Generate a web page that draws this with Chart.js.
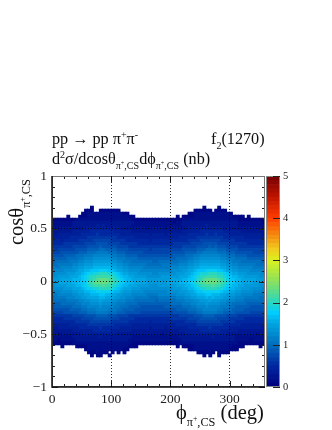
<!DOCTYPE html>
<html>
<head>
<meta charset="utf-8">
<script src="https://cdn.jsdelivr.net/npm/chart.js@4"></script>
<style>
  html, body { margin: 0; padding: 0; background: #fff; }
  #page { position: relative; width: 332px; height: 430px; overflow: hidden; }
  canvas { position: absolute; }
  .t { position: absolute; font-family: "Liberation Serif", serif; color: #111; white-space: nowrap; line-height: 20px; font-size: 16.2px; }
  .t sup, .t sub { font-size: 62%; line-height: 0; vertical-align: baseline; position: relative; }
  .t sup { top: -0.6em; }
  .t sub { top: 0.45em; }
  .big { font-size: 20.5px; line-height: 26px; }
  .big sub { font-size: 60%; top: 0.55em; }
</style>
</head>
<body>
<div id="page">
  <canvas id="map" width="332" height="430" style="left:0;top:0"></canvas>
  <canvas id="bar" width="60" height="240" style="left:260px;top:160px"></canvas>
  <div class="t" style="left:52px;top:129px">pp → pp π<sup>+</sup>π<sup>-</sup></div>
  <div class="t" style="left:211px;top:129px">f<sub>2</sub>(1270)</div>
  <div class="t" style="left:52px;top:149px">d<sup>2</sup>σ/dcosθ<sub>π<sup>+</sup>,CS</sub>dϕ<sub>π<sup>+</sup>,CS</sub> (nb)</div>
  <div class="t big" style="left:176px;top:399px">ϕ<sub>π<sup>+</sup>,CS</sub> (deg)</div>
  <div class="t big" style="left:3px;top:245px;transform-origin:0 0;transform:rotate(-90deg)">cosθ<sub>π<sup>+</sup>,CS</sub></div>
</div>
<script>
const xTicks = [0, 100, 200, 300];
const xMinorTicks = [20, 40, 60, 80, 120, 140, 160, 180, 220, 240, 260, 280, 320, 340];
const yTicks = [-1, -0.5, 0, 0.5, 1];
const yMinorTicks = [-0.9, -0.8, -0.7, -0.6, -0.4, -0.3, -0.2, -0.1, 0.1, 0.2, 0.3, 0.4, 0.6, 0.7, 0.8, 0.9];
const barTicks = [0, 1, 2, 3, 4, 5];

const phiBinWidth = 5;
const cosBinHeight = 0.6 / 21;
const cosTop = 0.6 + 4 * cosBinHeight;

// cell values in tenths of a nb. top row first, 72 phi bins, 0 = empty
const cellTenths = [
[0,0,0,0,0,0,0,0,0,0,0,0,0,1,0,0,0,0,0,0,0,0,0,0,0,0,0,0,0,0,0,0,0,0,0,0,0,0,0,0,0,0,0,0,0,0,0,0,0,0,0,1,0,0,0,0,1,0,0,0,0,0,0,0,0,0,0,0,0,0,0,0],
[0,0,0,0,0,0,0,0,0,0,0,1,1,1,0,0,1,1,1,1,1,1,1,0,0,0,0,0,0,0,0,0,0,0,0,0,0,0,0,0,0,0,0,0,0,0,0,0,1,1,1,1,1,1,0,1,1,1,1,0,0,0,0,0,0,0,0,0,0,0,0,0],
[0,0,0,0,0,0,0,0,0,0,1,1,2,2,2,2,2,2,2,2,2,2,2,2,1,1,0,0,0,0,0,0,0,0,0,0,0,0,0,0,0,0,0,0,0,0,1,1,2,2,2,2,2,2,2,2,2,2,2,2,1,0,0,0,0,0,0,0,0,0,0,0],
[0,0,0,0,0,1,0,0,0,1,1,1,2,2,2,2,2,2,2,2,2,2,2,2,2,2,1,1,0,0,0,0,0,0,0,0,0,0,0,0,0,0,1,0,1,1,1,1,2,2,2,2,2,2,2,2,2,2,2,2,2,1,1,1,1,0,1,0,0,0,0,0],
[1,1,1,1,1,1,1,1,2,2,2,2,2,2,2,2,2,2,2,2,2,2,2,2,2,2,2,1,1,1,1,1,1,1,1,1,1,1,1,1,1,1,1,1,2,2,2,2,2,2,2,2,2,2,2,2,2,2,2,2,2,2,2,1,1,1,1,1,1,1,1,1],
[2,2,2,2,2,2,2,3,3,3,3,3,3,3,3,3,3,3,3,3,3,3,3,3,3,3,3,3,2,2,2,2,2,2,2,2,2,2,2,2,2,1,2,2,3,3,3,3,3,3,3,3,3,3,3,3,3,3,3,3,3,3,3,2,2,2,2,2,2,2,2,1],
[2,2,2,2,2,2,2,3,3,3,3,3,3,3,3,4,3,4,3,3,3,3,3,3,3,3,3,2,2,2,2,2,2,2,2,2,2,2,2,2,2,2,2,2,3,3,3,3,3,3,3,3,4,3,3,3,3,3,3,3,3,3,3,2,2,2,2,2,2,2,2,2],
[3,2,3,3,3,3,3,3,3,3,3,4,4,4,4,4,4,4,4,4,4,4,4,3,3,3,3,3,3,3,3,3,2,3,3,3,3,3,2,3,3,3,3,3,3,3,4,4,4,4,4,4,4,4,4,4,4,4,3,4,3,3,3,3,3,3,3,3,3,3,3,2],
[3,3,3,3,3,3,3,4,4,4,4,4,4,5,5,5,5,5,5,5,5,4,4,4,4,4,4,3,3,3,3,3,3,3,3,3,3,3,3,3,3,3,3,3,4,4,4,4,4,4,5,5,5,5,5,5,5,5,4,4,4,4,4,4,3,3,3,3,3,3,3,3],
[4,3,4,4,4,4,4,4,4,4,5,5,5,5,5,6,5,5,5,5,5,5,5,4,4,4,4,4,4,4,4,4,4,3,4,4,4,4,3,4,4,4,4,4,4,4,5,5,5,5,5,5,6,5,5,6,5,5,5,5,4,4,4,4,4,4,4,4,4,4,4,3],
[4,4,4,4,4,4,5,5,5,5,5,5,6,6,6,6,6,6,6,6,6,6,5,5,5,5,5,5,4,4,4,4,4,4,4,4,4,4,4,4,4,4,4,5,5,5,5,5,5,6,6,6,6,6,6,6,6,6,5,5,5,5,5,5,5,4,4,4,4,4,4,4],
[5,5,5,4,5,5,5,5,5,6,6,6,6,6,7,7,7,7,7,7,6,6,6,6,6,5,5,5,5,5,5,5,5,4,5,5,5,5,5,5,5,5,5,5,5,5,6,6,6,6,7,7,7,7,7,7,7,6,6,6,6,6,5,5,5,5,5,5,5,5,5,5],
[5,5,5,5,6,6,6,6,6,6,6,7,7,7,7,8,8,8,8,7,7,7,7,6,6,6,6,6,6,5,5,5,5,5,5,5,5,5,5,5,5,6,6,6,6,6,6,7,7,7,7,8,8,8,8,8,7,7,7,7,6,6,6,6,6,6,5,5,5,5,5,5],
[6,6,6,6,6,6,6,7,7,7,7,7,8,8,8,8,9,8,8,8,8,8,7,7,7,7,6,6,6,6,6,6,6,6,6,6,6,6,6,6,6,6,6,6,7,7,7,7,7,8,8,8,8,9,8,9,8,8,8,7,7,7,7,6,6,6,6,6,6,6,6,6],
[7,6,7,7,7,7,7,7,8,8,8,8,9,9,9,9,10,10,9,9,9,9,8,8,8,8,7,7,7,7,7,7,7,6,7,7,7,7,7,7,7,7,7,7,8,8,8,8,8,9,9,9,10,10,10,10,9,9,9,8,8,8,8,7,7,7,7,7,7,7,7,7],
[7,7,7,8,8,8,8,8,8,9,9,9,10,10,10,11,11,11,11,10,10,10,9,9,9,8,8,8,8,8,8,7,7,7,7,7,7,7,7,7,8,8,8,8,8,9,9,9,9,10,10,11,11,11,11,11,10,10,10,9,9,9,8,8,8,8,8,8,7,7,7,7],
[8,8,8,8,9,9,9,9,10,10,10,11,11,11,12,12,12,12,12,12,11,11,10,10,10,9,9,9,9,8,8,8,8,8,8,8,8,8,8,8,8,9,9,9,9,10,10,10,11,11,12,12,12,12,12,12,12,11,11,10,10,10,9,9,9,9,8,8,8,8,8,8],
[9,9,9,9,9,10,10,10,10,11,11,12,12,12,13,13,13,13,13,13,12,12,11,11,11,10,10,10,10,9,9,9,9,9,9,9,9,9,9,9,9,9,10,10,10,10,11,11,12,12,13,13,13,13,13,13,13,12,12,11,11,11,10,10,10,10,9,9,9,9,9,9],
[9,10,10,10,10,10,11,11,11,12,12,13,13,13,14,14,14,14,14,14,13,13,12,12,11,11,11,10,10,10,10,10,10,10,9,9,10,10,10,10,10,10,10,11,11,11,12,12,13,13,14,14,14,14,14,14,14,13,13,12,12,11,11,11,10,10,10,10,10,10,10,9],
[10,10,11,11,11,11,11,12,12,13,13,14,14,14,15,15,15,15,15,15,14,14,13,13,12,12,11,11,11,11,11,11,10,10,10,10,10,11,11,11,11,11,11,12,12,12,13,13,14,14,15,15,15,15,15,15,15,14,14,13,13,12,12,11,11,11,11,11,11,10,10,10],
[11,11,11,12,12,12,12,13,13,14,14,15,15,15,16,16,16,16,16,16,15,15,14,14,13,13,12,12,12,12,12,11,11,11,11,11,11,11,11,11,12,12,12,13,13,13,14,14,15,15,16,16,16,16,16,16,16,15,15,14,14,13,13,12,12,12,12,12,11,11,11,11],
[12,12,12,12,13,13,13,13,14,15,15,16,16,17,17,17,18,18,18,17,17,16,15,15,14,14,13,13,13,13,12,12,12,12,12,12,12,12,12,12,12,13,13,13,14,14,15,15,16,17,17,17,18,18,18,18,17,17,16,15,15,14,14,13,13,13,13,12,12,12,12,12],
[12,13,13,13,13,14,14,14,15,15,16,17,18,18,19,19,20,20,20,19,19,18,17,16,15,15,14,14,14,13,13,13,13,13,12,12,13,13,13,13,13,13,14,14,14,15,15,16,17,18,19,19,19,20,20,20,19,19,18,17,16,15,15,14,14,14,13,13,13,13,13,12],
[13,13,14,14,14,14,15,15,15,16,17,18,19,20,20,21,21,21,21,21,20,19,18,17,16,16,15,15,14,14,14,14,13,13,13,13,13,14,14,14,14,14,14,15,15,15,16,17,18,19,20,20,21,21,21,21,20,20,19,18,17,16,16,15,15,14,14,14,14,14,13,13],
[14,14,14,15,15,15,15,16,16,16,17,18,19,20,21,22,23,23,23,22,21,20,19,18,17,16,16,15,15,15,15,15,14,14,14,14,14,14,14,14,15,15,15,15,16,16,17,17,18,20,20,22,23,23,23,23,22,21,20,18,17,17,16,16,15,15,15,15,15,14,14,14],
[14,14,15,15,15,15,15,16,16,17,17,18,20,21,22,23,23,23,23,22,21,20,19,18,17,16,16,16,15,15,15,15,14,14,14,14,14,14,14,15,15,15,15,16,16,16,17,18,19,20,22,22,23,23,23,23,22,21,20,19,18,17,16,16,15,15,15,15,14,14,14,14],
[13,14,14,14,14,15,15,15,16,16,17,18,19,20,21,21,21,22,21,21,20,19,18,17,16,16,15,15,15,14,14,14,14,13,13,13,14,14,14,14,14,14,15,15,15,16,16,17,18,19,20,21,21,21,22,21,21,20,19,18,17,16,16,15,15,14,14,14,14,14,13,13],
[13,13,13,13,14,14,14,15,15,15,16,17,18,18,19,19,20,20,20,20,19,18,17,16,15,15,15,14,14,14,13,13,13,13,13,13,13,13,13,13,13,14,14,14,15,15,16,16,17,18,19,19,20,20,20,20,19,19,18,17,16,16,15,15,14,14,14,13,13,13,13,12],
[12,12,12,13,13,13,13,14,14,15,15,16,16,17,17,18,18,18,18,18,17,16,16,15,14,14,14,13,13,13,13,12,12,12,12,12,12,12,12,13,13,13,13,14,14,14,15,15,16,17,17,18,18,18,18,18,18,17,16,16,15,15,14,14,13,13,13,13,12,12,12,12],
[11,11,12,12,12,12,12,13,13,14,14,15,15,16,16,16,17,17,16,16,15,15,14,14,13,13,13,12,12,12,12,12,11,11,11,11,12,12,12,12,12,12,13,13,13,14,14,15,15,16,16,16,17,17,16,16,16,15,15,14,14,14,13,13,12,12,12,12,11,11,11,11],
[10,11,11,11,11,12,12,12,13,13,14,14,15,15,15,15,16,16,15,15,15,14,14,13,13,12,12,12,11,11,11,11,11,10,10,10,11,11,11,11,11,11,12,12,12,13,13,14,14,15,15,15,16,15,16,15,15,15,14,14,13,13,12,12,12,11,11,11,11,11,10,10],
[10,10,10,10,10,11,11,11,11,12,12,13,13,14,14,14,15,14,14,14,13,13,12,12,12,11,11,11,10,10,10,10,10,10,10,9,10,10,10,10,10,10,11,11,11,12,12,12,13,13,14,14,14,15,14,14,14,13,13,12,12,12,11,11,11,10,10,10,10,10,10,10],
[9,9,9,10,10,10,10,10,11,11,12,12,12,13,13,13,14,13,13,13,12,12,11,11,11,10,10,10,10,9,9,9,9,9,9,9,9,9,9,9,10,10,10,10,11,11,11,12,12,13,13,13,14,13,13,13,13,12,12,11,11,10,10,10,10,10,9,9,9,9,9,9],
[8,9,9,9,9,9,9,10,10,10,11,11,12,12,12,12,13,12,12,12,12,11,11,10,10,10,9,9,9,9,8,8,8,8,8,8,8,8,9,9,9,9,9,9,10,10,10,11,11,12,12,12,13,12,12,12,12,11,11,11,10,10,9,9,9,9,9,8,8,8,8,8],
[8,8,8,8,8,8,9,9,9,9,10,10,11,11,11,12,12,12,12,11,11,11,10,10,9,9,9,9,8,8,8,8,8,8,8,8,8,8,8,8,8,8,9,9,9,9,10,10,10,11,11,12,12,12,12,12,11,11,10,10,10,9,9,9,9,8,8,8,8,8,8,8],
[7,7,7,7,8,8,8,8,8,9,9,9,10,10,10,11,11,11,11,10,10,10,9,9,9,8,8,8,8,8,7,7,7,7,7,7,7,7,7,7,7,8,8,8,8,8,9,9,9,10,10,11,11,11,11,11,10,10,9,9,9,9,8,8,8,8,8,7,7,7,7,7],
[6,6,6,6,6,6,6,7,7,7,7,8,8,8,8,9,9,9,9,8,8,8,7,7,7,7,6,6,6,6,6,6,6,6,6,6,6,6,6,6,6,6,6,7,7,7,7,7,8,8,8,9,9,9,9,8,8,8,8,7,7,7,7,6,6,6,6,6,6,6,6,6],
[5,5,5,5,6,6,6,6,6,6,7,7,7,7,8,8,8,8,8,8,7,7,7,6,6,6,6,6,5,5,5,5,5,5,5,5,5,5,5,5,6,6,6,6,6,6,7,7,7,7,8,8,8,8,8,8,7,7,7,7,6,6,6,6,6,5,5,5,5,5,5,5],
[5,5,5,5,5,5,5,5,6,6,6,6,6,7,7,7,7,7,7,7,6,6,6,6,6,6,5,5,5,5,5,5,5,4,5,5,5,5,5,5,5,5,5,5,5,6,6,6,6,7,7,7,7,7,7,7,7,6,6,6,6,6,5,5,5,5,5,5,5,5,5,5],
[4,4,4,4,4,4,5,5,5,5,5,5,6,6,6,6,6,6,6,6,6,5,5,5,5,5,5,4,4,4,4,4,4,4,4,4,4,4,4,4,4,4,5,5,5,5,5,5,5,6,6,6,6,6,6,6,6,6,5,5,5,5,5,5,4,4,4,4,4,4,4,4],
[4,3,4,4,4,4,4,4,4,5,5,5,5,5,5,5,6,5,5,5,5,5,5,4,4,4,4,4,4,4,4,4,4,3,4,4,4,4,3,4,4,4,4,4,4,4,5,5,5,5,5,5,5,6,5,5,5,5,5,5,4,4,4,4,4,4,4,4,4,4,4,3],
[3,3,3,3,3,3,3,4,4,4,4,4,4,4,5,5,5,5,5,5,4,4,4,4,4,4,4,3,3,3,3,3,3,3,3,3,3,3,3,3,3,3,3,4,4,4,4,4,4,4,5,5,5,5,5,5,5,4,4,4,4,4,4,3,3,3,3,3,3,3,3,3],
[3,3,2,3,3,3,3,3,3,3,4,4,4,4,4,4,4,4,4,4,4,4,3,3,3,3,3,3,3,3,3,3,3,3,3,3,3,2,3,3,3,3,3,3,3,4,4,4,4,4,4,4,4,4,4,4,4,4,4,3,3,3,3,3,3,3,3,3,3,2,3,3],
[2,2,2,2,2,2,2,3,3,3,3,3,3,3,3,3,4,3,3,3,3,3,3,3,3,3,3,2,2,2,2,2,2,2,2,2,2,2,2,2,2,2,2,3,3,3,3,3,3,3,3,3,3,3,4,3,3,3,3,3,3,3,2,2,2,2,2,2,2,2,2,2],
[2,2,1,2,2,2,2,2,3,3,3,3,3,3,3,3,3,3,3,3,3,3,3,3,3,3,2,2,2,2,2,2,2,2,2,2,2,2,2,2,2,2,2,2,3,3,3,3,3,3,3,3,3,3,3,3,3,3,3,3,3,3,2,2,2,2,2,1,2,2,2,2],
[1,1,1,1,1,1,1,2,2,2,2,2,2,2,2,2,2,2,2,2,2,2,2,2,2,2,2,1,1,1,1,1,1,1,1,1,1,1,1,1,1,1,1,2,2,2,2,2,2,2,2,2,2,2,2,2,2,2,2,2,2,2,2,1,1,1,1,1,1,1,1,1],
[0,0,0,1,0,0,0,0,1,1,1,1,2,2,2,2,2,2,2,2,2,2,2,2,2,2,1,1,1,0,0,0,0,0,0,0,0,0,0,0,0,0,1,0,1,1,1,1,2,2,2,2,2,2,2,2,2,2,2,2,2,1,1,1,1,0,0,0,0,0,1,0],
[0,0,0,0,0,0,0,0,0,0,0,1,2,2,2,2,2,2,2,2,2,2,2,2,1,1,0,0,0,0,0,0,0,0,0,0,0,0,0,0,0,0,0,0,0,0,1,1,2,2,2,2,2,2,2,2,2,2,2,2,1,1,1,0,0,0,0,0,0,0,0,0],
[0,0,0,0,0,0,0,0,0,0,0,0,1,1,1,2,1,1,1,0,1,0,1,0,1,0,0,0,0,0,0,0,0,0,0,0,0,0,0,0,0,0,0,0,0,0,0,0,0,1,1,1,1,1,1,0,1,1,1,1,0,0,0,0,0,0,0,0,0,0,0,0],
[0,0,0,0,0,0,0,0,0,0,0,0,0,1,0,1,1,0,0,1,0,0,0,0,0,0,0,0,0,0,0,0,0,0,0,0,0,0,0,0,0,0,0,0,0,0,0,0,0,0,0,1,0,1,0,0,1,0,0,0,0,0,0,0,0,0,0,0,0,0,0,0]
];

// colour bar: one step per tenth, 0 to 5
const barLevels = [];
for (let i = 0; i < 50; i++) barLevels.push(i / 10);

const paletteStops = [
  [0, 0, 0, 125], [0.5, 0, 40, 160], [1, 0, 110, 190], [1.5, 0, 165, 225], [1.75, 0, 205, 255],
  [2, 40, 215, 190], [2.5, 140, 225, 90], [3, 220, 240, 30], [3.25, 240, 205, 30], [3.5, 245, 155, 20],
  [4, 255, 60, 0], [4.5, 190, 20, 0], [5, 115, 0, 0]
];

function paletteColor(value) {
  for (let i = 1; i < paletteStops.length; i++) {
    const a = paletteStops[i - 1], b = paletteStops[i];
    if (value <= b[0]) {
      const f = (value - a[0]) / (b[0] - a[0]);
      return `rgb(${Math.round(a[1] + (b[1] - a[1]) * f)},${Math.round(a[2] + (b[2] - a[2]) * f)},${Math.round(a[3] + (b[3] - a[3]) * f)})`;
    }
  }
  return 'rgb(115,0,0)';
}

const cells = [];
cellTenths.forEach((row, r) => {
  row.forEach((v, c) => {
    if (v > 0) cells.push({ x: (c + 0.5) * phiBinWidth, y: cosTop - (r + 0.5) * cosBinHeight, v: v / 10 });
  });
});

const serif = '"Liberation Serif", serif';
const ink = '#222';

// ROOT style frame with ticks pointing inwards
const frameTicks = {
  id: 'frameTicks',
  afterDatasetsDraw(chart) {
    const { ctx, chartArea: a, scales: { x, y } } = chart;
    ctx.save();
    ctx.strokeStyle = ink;
    ctx.lineWidth = 1;
    ctx.beginPath();
    const tickX = (v, len) => {
      const p = Math.round(x.getPixelForValue(v)) + 0.5;
      ctx.moveTo(p, a.bottom); ctx.lineTo(p, a.bottom - len);
      ctx.moveTo(p, a.top); ctx.lineTo(p, a.top + len);
    };
    const tickY = (v, len) => {
      const p = Math.round(y.getPixelForValue(v)) + 0.5;
      ctx.moveTo(a.left, p); ctx.lineTo(a.left + len, p);
      ctx.moveTo(a.right, p); ctx.lineTo(a.right - len, p);
    };
    xMinorTicks.forEach(v => tickX(v, 3));
    xTicks.forEach(v => tickX(v, 6));
    yMinorTicks.forEach(v => tickY(v, 3));
    yTicks.forEach(v => tickY(v, 6));
    ctx.stroke();
    ctx.strokeStyle = '#777';
    ctx.strokeRect(a.left + 0.5, a.top + 0.5, a.right - a.left - 1, a.bottom - a.top - 1);
    ctx.strokeStyle = '#111';
    ctx.lineWidth = 1.5;
    ctx.beginPath();
    ctx.moveTo(a.left, a.top); ctx.lineTo(a.left, a.bottom); ctx.lineTo(a.right, a.bottom);
    ctx.stroke();
    ctx.restore();
  }
};

const barFrame = {
  id: 'barFrame',
  afterDatasetsDraw(chart) {
    const { ctx, chartArea: a, scales: { y } } = chart;
    ctx.save();
    ctx.strokeStyle = '#888';
    ctx.strokeRect(a.left + 0.5, a.top + 0.5, a.right - a.left - 1, a.bottom - a.top - 1);
    ctx.strokeStyle = ink;
    ctx.beginPath();
    barTicks.forEach(v => {
      const p = Math.round(y.getPixelForValue(v)) + 0.5;
      ctx.moveTo(a.right, p); ctx.lineTo(a.right - 7, p);
    });
    ctx.stroke();
    ctx.restore();
  }
};

const dotted = { display: false, dash: [1, 2] };
const gridColor = keep => c => (c.tick && keep.includes(c.tick.value)) ? 'rgba(0,0,0,0.8)' : 'rgba(0,0,0,0)';

new Chart(document.getElementById('map'), {
  type: 'scatter',
  data: {
    datasets: [{
      data: cells,
      pointStyle: 'rect',
      // a bit over one bin so the later cells cover the soft edges of the earlier ones
      pointRadius: 2.75,
      pointBorderWidth: 0,
      pointBackgroundColor: cells.map(p => paletteColor(p.v))
    }]
  },
  options: {
    responsive: false,
    animation: false,
    events: [],
    layout: { padding: { top: 176, right: 67 } },
    plugins: { legend: { display: false }, tooltip: { enabled: false } },
    scales: {
      x: {
        type: 'linear', min: 0, max: 360,
        afterBuildTicks: s => { s.ticks = xTicks.map(v => ({ value: v })); },
        afterFit: s => { s.height = 43; },
        border: dotted,
        grid: { z: 1, drawTicks: false, color: gridColor([100, 200, 300]) },
        ticks: { color: ink, font: { family: serif, size: 13.5 }, padding: 4, maxRotation: 0, autoSkip: false }
      },
      y: {
        type: 'linear', min: -1, max: 1,
        afterBuildTicks: s => { s.ticks = yTicks.map(v => ({ value: v })); },
        afterFit: s => { s.width = 52; },
        border: dotted,
        grid: { z: 1, drawTicks: false, color: gridColor([-0.5, 0, 0.5]) },
        ticks: {
          color: ink, font: { family: serif, size: 13.5 }, padding: 5, autoSkip: false,
          callback: v => String(v).replace('-', '\u2212')
        }
      }
    }
  },
  plugins: [frameTicks]
});

new Chart(document.getElementById('bar'), {
  type: 'bar',
  data: {
    labels: ['z'],
    datasets: barLevels.map(v => ({
      data: [[v, v + 0.1]],
      backgroundColor: paletteColor(v + 0.05),
      barPercentage: 1,
      categoryPercentage: 1,
      borderWidth: 0,
      grouped: false
    }))
  },
  options: {
    responsive: false,
    animation: false,
    events: [],
    layout: { padding: { top: 16, left: 6, bottom: 13 } },
    plugins: { legend: { display: false }, tooltip: { enabled: false } },
    scales: {
      x: { display: false },
      y: {
        position: 'right', min: 0, max: 5,
        afterBuildTicks: s => { s.ticks = barTicks.map(v => ({ value: v })); },
        afterFit: s => { s.width = 40; },
        border: { display: false },
        grid: { display: false, drawTicks: false },
        ticks: { color: ink, font: { family: serif, size: 10.5 }, padding: 3, autoSkip: false }
      }
    }
  },
  plugins: [barFrame]
});
</script>
</body>
</html>
